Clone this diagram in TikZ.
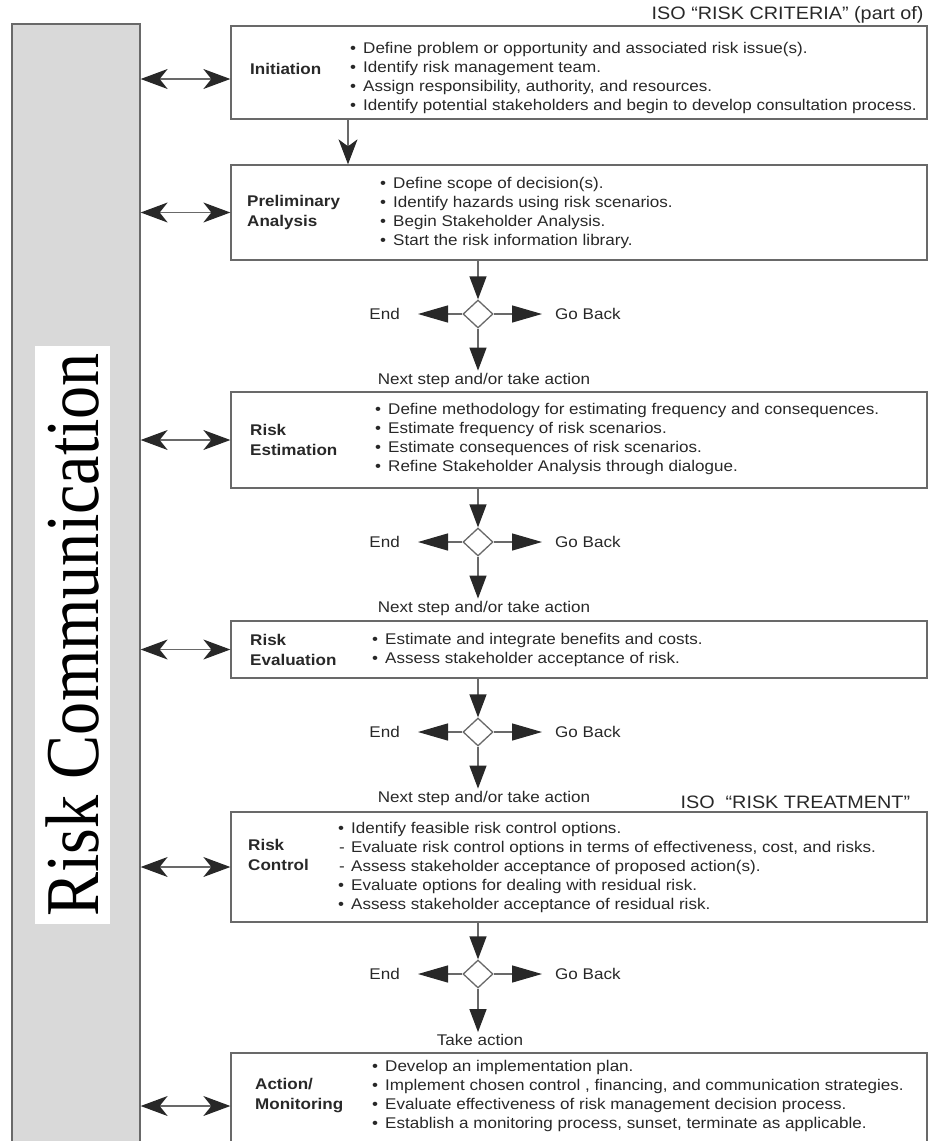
\documentclass[tikz,border=0pt]{standalone}
\usepackage{graphicx}
\usepackage{fontspec}
\setmainfont{Liberation Sans}[FakeStretch=1.1]
\newfontfamily\commfont{Liberation Serif}
\usetikzlibrary{
  arrows.meta,
  shapes.geometric
}
\definecolor{linegray}{RGB}{105,105,105}
\definecolor{bargray}{RGB}{217,217,217}
\definecolor{inkgray}{RGB}{40,40,40}
\newcommand{\bul}{\makebox[13pt][l]{•}}
\newcommand{\dsh}{\makebox[13pt][l]{\hspace{1pt}-}}

\begin{document}
\begin{tikzpicture}[x=1pt, y=-1pt,
    every node/.style={font=\fontsize{15.5}{19}\selectfont, text=inkgray},
    stagebox/.style={draw=linegray, line width=1.3pt, minimum width=696pt, inner sep=0pt},
    stagename/.style={anchor=west, align=left, inner sep=0pt, font=\fontsize{15.5}{20}\selectfont\bfseries},
    bullets/.style={anchor=west, align=left, inner sep=0pt},
    decision/.style={diamond, draw=linegray, fill=white, line width=1.3pt, minimum width=30pt, minimum height=28pt, inner sep=0pt},
    flow/.style={draw=linegray, line width=1.3pt, -{Triangle[length=23pt, width=17pt, color=inkgray]}},
    sideflow/.style={draw=linegray, line width=1.3pt, -{Triangle[length=30pt, width=17pt, color=inkgray]}},
    stepflow/.style={draw=linegray, line width=1.3pt, -{Stealth[length=25pt, width=19pt, inset=7pt, color=inkgray]}},
    talk/.style={draw=linegray, line width=1.3pt, {Stealth[length=27pt, width=20pt, inset=8pt, color=inkgray]}-{Stealth[length=27pt, width=20pt, inset=8pt, color=inkgray]}},
    iso/.style={font=\fontsize{18}{20}\selectfont}]
    \useasboundingbox (0,0) rectangle (928,1141);
    \clip (0,0) rectangle (928,1141);

    % left bar
    \node[draw=linegray, fill=bargray, line width=1.3pt, minimum width=128pt, minimum height=1140pt, inner sep=0pt] (comm) at (76,594) {};
    \node[fill=white, rotate=90, minimum width=578pt, minimum height=75pt, inner sep=0pt, text=black, font=\commfont\fontsize{76}{76}\selectfont] (commtext) at (72.5,635) {\scalebox{0.87}[1]{Risk Communication}};

    % stage boxes
    \node[stagebox, minimum height=93pt] (init) at (579,72.5) {};
    \node[stagebox, minimum height=95pt] (prelim) at (579,212.5) {};
    \node[stagebox, minimum height=96pt] (estim) at (579,440) {};
    \node[stagebox, minimum height=57pt] (evalu) at (579,649.5) {};
    \node[stagebox, minimum height=110pt] (control) at (579,867) {};
    \node[stagebox, minimum height=106pt] (action) at (579,1106) {};

    \node[iso, anchor=east] (isocrit) at (927,15) {ISO “RISK CRITERIA” (part of)};
    \node[iso, anchor=west] (isotreat) at (677,802) {ISO\ \ “RISK TREATMENT”};

    \node[stagename] (initname) at (250,69) {Initiation};
    \node[stagename] (prelimname) at (247,212) {Preliminary\\Analysis};
    \node[stagename] (estimname) at (250,440) {Risk\\Estimation};
    \node[stagename] (evaluname) at (250,650) {Risk\\Evaluation};
    \node[stagename] (controlname) at (248,855) {Risk\\Control};
    \node[stagename] (actionname) at (255,1096) {Action/\\Monitoring};

    \node[bullets] (initlist) at (350,77.5) {\bul Define problem or opportunity and associated risk issue(s).\\
      \bul Identify risk management team.\\
      \bul Assign responsibility, authority, and resources.\\
      \bul Identify potential stakeholders and begin to develop consultation process.};
    \node[bullets] (prelimlist) at (380,213) {\bul Define scope of decision(s).\\
      \bul Identify hazards using risk scenarios.\\
      \bul Begin Stakeholder Analysis.\\
      \bul Start the risk information library.};
    \node[bullets] (estimlist) at (375,438.5) {\bul Define methodology for estimating frequency and consequences.\\
      \bul Estimate frequency of risk scenarios.\\
      \bul Estimate consequences of risk scenarios.\\
      \bul Refine Stakeholder Analysis through dialogue.};
    \node[bullets] (evalulist) at (372,650) {\bul Estimate and integrate benefits and costs.\\
      \bul Assess stakeholder acceptance of risk.};
    \node[bullets] (controllist) at (338,867.5) {\bul Identify feasible risk control options.\\
      \dsh Evaluate risk control options in terms of effectiveness, cost, and risks.\\
      \dsh Assess stakeholder acceptance of proposed action(s).\\
      \bul Evaluate options for dealing with residual risk.\\
      \bul Assess stakeholder acceptance of residual risk.};
    \node[bullets] (actionlist) at (372,1096) {\bul Develop an implementation plan.\\
      \bul Implement chosen control , financing, and communication strategies.\\
      \bul Evaluate effectiveness of risk management decision process.\\
      \bul Establish a monitoring process, sunset, terminate as applicable.};

    % decisions
    \node[decision] (dec1) at (478,314) {};
    \node[decision] (dec2) at (478,542) {};
    \node[decision] (dec3) at (478,732) {};
    \node[decision] (dec4) at (478,974) {};

    \node[anchor=east, inner xsep=18pt] (end1) at (418,314) {End};
    \node[anchor=east, inner xsep=18pt] (end2) at (418,542) {End};
    \node[anchor=east, inner xsep=18pt] (end3) at (418,732) {End};
    \node[anchor=east, inner xsep=18pt] (end4) at (418,974) {End};
    \node[anchor=west, inner xsep=13pt] (back1) at (542,314) {Go Back};
    \node[anchor=west, inner xsep=13pt] (back2) at (542,542) {Go Back};
    \node[anchor=west, inner xsep=13pt] (back3) at (542,732) {Go Back};
    \node[anchor=west, inner xsep=13pt] (back4) at (542,974) {Go Back};

    \node[fill=white, inner sep=2pt] (next1) at (484,380) {Next step and/or take action};
    \node[inner sep=2pt] (next2) at (484,608) {Next step and/or take action};
    \node[inner sep=2pt] (next3) at (484,798) {Next step and/or take action};
    \node[inner sep=2pt] (take) at (480,1040) {Take action};

    % connectors
    \coordinate (split) at (348,0);
    \draw[stepflow] (init.south -| split) -- (prelim.north -| split);

    \draw[flow] (prelim.south -| dec1.north) -- (dec1.north);
    \draw[sideflow] (dec1.west) -- (end1.east);
    \draw[sideflow] (dec1.east) -- (back1.west);
    \draw[flow] (dec1.south) -- (dec1.south |- next1.north);

    \draw[flow] (estim.south -| dec2.north) -- (dec2.north);
    \draw[sideflow] (dec2.west) -- (end2.east);
    \draw[sideflow] (dec2.east) -- (back2.west);
    \draw[flow] (dec2.south) -- (dec2.south |- next2.north);

    \draw[flow] (evalu.south -| dec3.north) -- (dec3.north);
    \draw[sideflow] (dec3.west) -- (end3.east);
    \draw[sideflow] (dec3.east) -- (back3.west);
    \draw[flow] (dec3.south) -- (dec3.south |- next3.north);

    \draw[flow] (control.south -| dec4.north) -- (dec4.north);
    \draw[sideflow] (dec4.west) -- (end4.east);
    \draw[sideflow] (dec4.east) -- (back4.west);
    \draw[flow] (dec4.south) -- (dec4.south |- take.north);

    \coordinate (initport) at ([yshift=-6.5pt]init.west);
    \draw[talk] (comm.east |- initport) -- (initport);
    \draw[talk] (comm.east |- prelim.west) -- (prelim.west);
    \draw[talk] (comm.east |- estim.west) -- (estim.west);
    \draw[talk] (comm.east |- evalu.west) -- (evalu.west);
    \draw[talk] (comm.east |- control.west) -- (control.west);
    \draw[talk] (comm.east |- action.west) -- (action.west);
\end{tikzpicture}
\end{document}
